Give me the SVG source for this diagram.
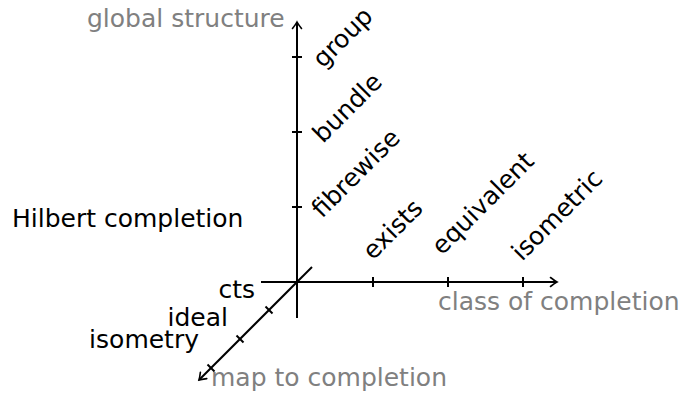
<svg xmlns="http://www.w3.org/2000/svg" width="686" height="399" viewBox="0 0 686 399">
<style>
.t{font-family:"DejaVu Sans","Liberation Sans",sans-serif;font-size:25px;fill:#000}
.g{fill:#808080}
.ax{stroke:#000;stroke-width:2;fill:none}
</style>
<defs>
<marker id="arr" viewBox="-8 -6 10 12" markerWidth="10" markerHeight="12" refX="0" refY="0" orient="auto" markerUnits="userSpaceOnUse">
<path d="M-6.5,-4.5 Q-2,-1 0,0 Q-2,1 -6.5,4.5" fill="none" stroke="#000" stroke-width="1.6" stroke-linecap="round"/>
</marker>
</defs>
<g id="connectors">
<line class="ax" x1="261" y1="282" x2="557" y2="282" marker-end="url(#arr)"/>
<line class="ax" x1="297" y1="318" x2="297" y2="22" marker-end="url(#arr)"/>
<line class="ax" x1="312" y1="267" x2="199" y2="380" marker-end="url(#arr)"/>
<g id="ticks" class="ax">
<line x1="373" y1="277" x2="373" y2="287"/>
<line x1="448" y1="277" x2="448" y2="287"/>
<line x1="523" y1="277" x2="523" y2="287"/>
<line x1="292" y1="207" x2="302" y2="207"/>
<line x1="292" y1="132" x2="302" y2="132"/>
<line x1="292" y1="57" x2="302" y2="57"/>
<line x1="265.5" y1="306.5" x2="272.5" y2="313.5"/>
<line x1="236.5" y1="335.5" x2="243.5" y2="342.5"/>
<line x1="207.5" y1="364.5" x2="214.5" y2="371.5"/>
</g>
</g>
<g id="axis-labels">
<text class="t g" x="87" y="27">global structure</text>
<text class="t g" x="438" y="310">class of completion</text>
<text class="t g" x="211" y="386">map to completion</text>
</g>
<g id="y-labels">
<text class="t" transform="translate(323,69) rotate(-45)">group</text>
<text class="t" transform="translate(323,144) rotate(-45)">bundle</text>
<text class="t" transform="translate(322,219) rotate(-45)">fibrewise</text>
</g>
<g id="x-labels">
<text class="t" transform="translate(373,261) rotate(-45)">exists</text>
<text class="t" transform="translate(442,256) rotate(-45)">equivalent</text>
<text class="t" transform="translate(522,262) rotate(-45)">isometric</text>
</g>
<g id="z-labels">
<text class="t" x="12" y="227">Hilbert completion</text>
<text class="t" x="255" y="298" text-anchor="end">cts</text>
<text class="t" x="228" y="326" text-anchor="end">ideal</text>
<text class="t" x="199" y="348" text-anchor="end">isometry</text>
</g>
</svg>
